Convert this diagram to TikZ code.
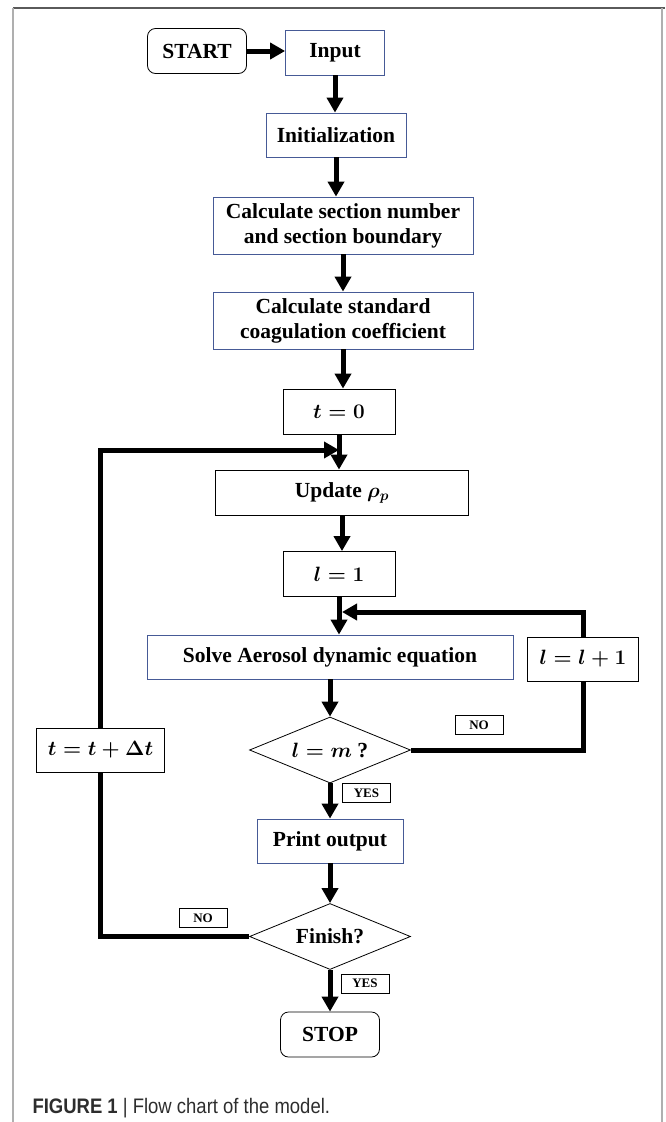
\documentclass[tikz,border=0pt]{standalone}
\usepackage{graphicx}
\usepackage{fontspec}
\setmainfont{Liberation Serif}
\newfontfamily\capfont{Liberation Sans}
\usetikzlibrary{positioning,arrows.meta,shapes.geometric}
\definecolor{edge}{RGB}{70,90,150}
\definecolor{frame}{RGB}{175,175,175}
\definecolor{framedark}{RGB}{90,90,90}
\definecolor{captext}{RGB}{45,45,45}

\begin{document}
\begin{tikzpicture}[x=1pt, y=-1pt, every node/.style={font=\fontsize{21.5}{25}\selectfont\bfseries\boldmath},
  bb/.style={draw=edge, line width=0.8pt, align=center, inner sep=2pt},
  kb/.style={draw, line width=0.8pt, align=center, inner sep=2pt},
  term/.style={draw, line width=0.8pt, rounded corners=8pt, inner sep=2pt, minimum width=99pt, minimum height=45pt},
  dec/.style={draw, diamond, aspect=2.5, line width=0.8pt, inner sep=0pt, minimum width=161pt, minimum height=66pt},
  tag/.style={draw, line width=0.8pt, font=\fontsize{13}{15}\selectfont\bfseries, minimum width=48pt, minimum height=19pt, inner sep=0pt},
  a/.style={-{Triangle[length=15pt,width=16pt]}, line width=5pt},
  ln/.style={line width=5pt}]
\useasboundingbox (0,0) rectangle (665,1122);
% page frame
\draw[framedark, line width=1.5pt] (13,8) -- (665,8);
\draw[frame, line width=2pt] (13,8) -- (13,1122);
\draw[frame, line width=1.5pt] (662,8) -- (662,1122);

\node[term] (start) at (197,51) {START};
\node[bb, minimum width=99pt, minimum height=45pt] (inp) at (335,52.5) {Input};
\node[bb, minimum width=140pt, minimum height=44pt] (init) at (336,135) {Initialization};
\node[bb, minimum width=260pt, minimum height=57pt] (sect) at (343,225.5) {Calculate section number\\and section boundary};
\node[bb, minimum width=260pt, minimum height=57pt] (coag) at (343,320.5) {Calculate standard\\coagulation coefficient};
\node[kb, minimum width=112pt, minimum height=45pt] (tz) at (339,411.5) {$t = 0$};
\node[kb, minimum width=253pt, minimum height=45pt] (upd) at (342,492.5) {Update $\rho_p$};
\node[kb, minimum width=112pt, minimum height=45pt] (lone) at (339,574) {$l = 1$};
\node[bb, minimum width=366pt, minimum height=44pt] (solve) at (330,657) {Solve Aerosol dynamic equation};
\node[kb, minimum width=111pt, minimum height=44pt] (linc) at (583,659) {$l = l + 1$};
\node[dec] (lm) at (330,750) {$l = m$ ?};
\node[bb, minimum width=146pt, minimum height=44pt] (print) at (330,841) {Print output};
\node[dec] (fin) at (330,936.5) {Finish?};
\node[term] (stop) at (330,1034.5) {STOP};
\node[kb, minimum width=128pt, minimum height=44pt] (tinc) at (100.5,750) {$t = t + \Delta t$};

\node[tag] (no1) at (479,725) {NO};
\node[tag] (yes1) at (366.5,793) {YES};
\node[tag] (no2) at (203,918) {NO};
\node[tag] (yes2) at (365,983.5) {YES};

\coordinate (lj) at (339,450);
\coordinate (rj) at (342,612);

\draw[a] (start) -- (start -| inp.west);
\draw[a] (inp) -- (inp |- init.north);
\draw[a] (init) -- (init |- sect.north);
\draw[a] (sect) -- (coag);
\draw[a] (coag) -- (coag |- tz.north);
\draw[a] (tz) -- (tz |- upd.north);
\draw[a] (upd) -- (upd |- lone.north);
\draw[a] (lone) -- (lone |- solve.north);
\draw[a] (solve) -- (lm); \draw[a] (lm) -- (print); \draw[a] (print) -- (fin); \draw[a] (fin) -- (stop);
\draw[ln] (lm.east) -| (linc.south);
\draw[a] (linc.north) |- (rj);
\draw[ln] (fin.west) -| (tinc.south);
\draw[a] (tinc.north) |- (lj);

\node[anchor=base west, text=captext, font=\capfont\fontsize{21}{24}\selectfont] (cap) at (29,1113) {\scalebox{0.88}[1]{\textbf{FIGURE 1} | Flow chart of the model.}};
\end{tikzpicture}
\end{document}
